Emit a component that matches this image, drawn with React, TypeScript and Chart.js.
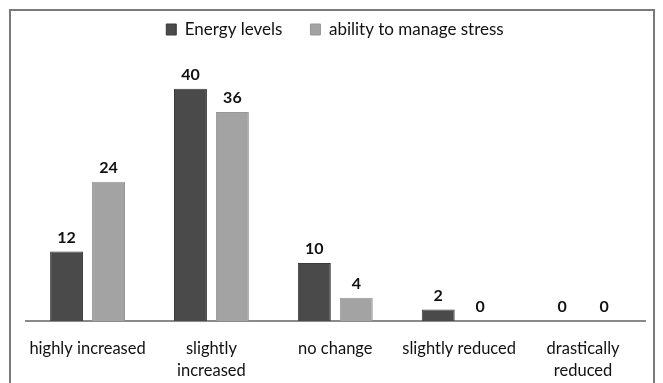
import React, { useEffect, useRef } from "react";
import { Chart, registerables } from "chart.js";

Chart.register(...registerables);

const categories: (string | string[])[] = [
  "highly increased",
  ["slightly", "increased"],
  "no change",
  "slightly reduced",
  ["drastically", "reduced"],
];
const energyLevels = [12, 40, 10, 2, 0];
const stressManagement = [24, 36, 4, 0, 0];
const seriesNames = ["Energy levels", "ability to manage stress"];

const FONT = "Lato, 'Open Sans', sans-serif";

const valueLabels = {
  id: "valueLabels",
  afterDatasetsDraw(chart: any) {
    const ctx = chart.ctx;
    ctx.save();
    ctx.font = `bold 16px ${FONT}`;
    ctx.fillStyle = "#111";
    ctx.textAlign = "center";
    ctx.textBaseline = "bottom";
    chart.data.datasets.forEach((ds: any, i: number) => {
      const meta = chart.getDatasetMeta(i);
      meta.data.forEach((bar: any, j: number) => {
        ctx.fillText(String(ds.data[j]), bar.x, bar.y - 6);
      });
    });
    ctx.restore();
  },
};

export default function App() {
  const canvasRef = useRef<HTMLCanvasElement | null>(null);

  useEffect(() => {
    if (!canvasRef.current) return;
    const chart = new Chart(canvasRef.current, {
      type: "bar",
      data: {
        labels: categories,
        datasets: [
          {
            label: seriesNames[0],
            data: energyLevels,
            backgroundColor: "#4a4a4a",
            borderColor: "#3a3a3a",
            borderWidth: 1,
          },
          {
            label: seriesNames[1],
            data: stressManagement,
            backgroundColor: "#a3a3a3",
            borderColor: "#979797",
            borderWidth: 1,
          },
        ],
      },
      options: {
        animation: false,
        responsive: true,
        maintainAspectRatio: false,
        layout: { padding: { left: 14, right: 8, top: -18, bottom: -8 } },
        datasets: {
          bar: { categoryPercentage: 0.677, barPercentage: 0.786 },
        },
        plugins: {
          legend: {
            position: "top",
            labels: {
              boxWidth: 10,
              boxHeight: 11,
              padding: 28,
              color: "#111",
              font: { family: FONT, size: 17 },
            },
          },
          tooltip: { enabled: false },
        },
        scales: {
          x: {
            grid: { display: false, drawTicks: false },
            border: { display: true, color: "#8a8a8a", width: 2 },
            ticks: {
              color: "#111",
              padding: 17,
              maxRotation: 0,
              autoSkip: false,
              font: { family: FONT, size: 16.5, lineHeight: 1.33 },
            },
          },
          y: {
            display: false,
            min: 0,
            max: 47,
          },
        },
      },
      plugins: [valueLabels],
    });
    return () => chart.destroy();
  }, []);

  return (
    <div
      style={{
        marginLeft: 1,
        marginTop: 1,
        width: 642,
        height: 380,
        border: "2px solid #7a7a7a",
        position: "relative",
        background: "#fff",
      }}
    >
      <canvas ref={canvasRef} />
    </div>
  );
}
